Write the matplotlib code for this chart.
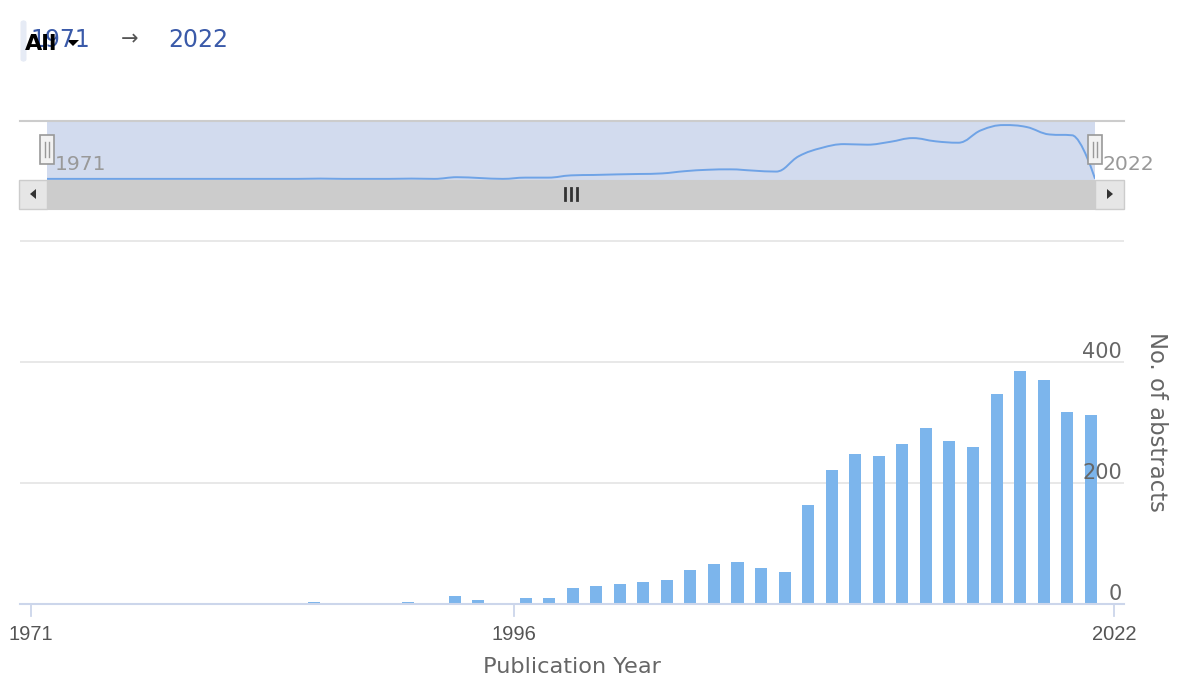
import numpy as np
import matplotlib
matplotlib.use("Agg")
import matplotlib.pyplot as plt
from matplotlib.path import Path
from matplotlib.patches import PathPatch, Rectangle, FancyBboxPatch, Polygon
from matplotlib.transforms import blended_transform_factory, offset_copy

# ---------------- data ----------------
years = [1971, 1973, 1975, 1977, 1979,
         1980, 1981, 1982, 1983, 1984, 1985, 1986, 1987, 1988, 1989,
         1990, 1991, 1992, 1993, 1994, 1995,
         1997, 1998, 1999, 2000, 2001, 2002, 2003, 2004, 2005, 2006,
         2007, 2008, 2009, 2010, 2011, 2012, 2013, 2014, 2015, 2016,
         2017, 2018, 2019, 2020, 2021, 2022]
abstracts = [1, 1, 1, 1, 1,
             1, 1, 1, 1, 1, 1, 1, 3, 1, 1,
             1, 3, 1, 13, 7, 1,
             10, 10, 26, 29, 33, 36, 40, 56, 66, 69,
             60, 53, 163, 222, 249, 245, 265, 292, 269, 259,
             348, 385, 371, 318, 312, 2]
x_ticks = [1971, 1996, 2022]
y_ticks = [0, 200, 400]
y_grid = [200, 400, 600]
range_start, range_end = "1971", "2022"
x_title = "Publication Year"
y_title = "No. of abstracts"

BAR = "#7cb5ec"
GRID = "#e6e6e6"
AXIS = "#ccd6eb"
LABEL = "#666666"

W, H = 1200, 700
fig = plt.figure(figsize=(W / 100, H / 100), dpi=100)
fig.patch.set_facecolor("white")


def fx(x):
    return x / W


def fy(y):
    return 1 - y / H


def fig_axes(x0, y0, x1, y1, **kw):
    return fig.add_axes([fx(x0), fy(y1), fx(x1) - fx(x0), fy(y0) - fy(y1)], **kw)


idx = np.arange(len(years))
vals = np.array(abstracts, dtype=float)

# ---------------- main chart ----------------
px_step = 23.55
x_first = 31.0
ax = fig_axes(20, 239, 1124, 604)
ax.set_xlim((20 - x_first) / px_step, (1124 - x_first) / px_step)
ax.set_ylim(0, 604)
for s in ax.spines.values():
    s.set_visible(False)
ax.set_facecolor("none")
ax.set_yticks([])
ax.set_xticks([])

for g in y_grid:
    ax.axhline(g, color=GRID, lw=1.3, zorder=0)
ax.bar(idx, vals, width=0.51, color=BAR, zorder=2, linewidth=0)
ax.axhline(0, color=AXIS, lw=1.5, zorder=3, clip_on=False)

# x ticks (ordinal interpolation like a stock axis)
tick_pos = np.interp(x_ticks, years, idx)
trans_x = blended_transform_factory(ax.transData, ax.transAxes)
for tp, lab in zip(tick_pos, x_ticks):
    ax.plot([tp, tp], [0, -12 / 365], transform=trans_x, color=AXIS, lw=1.3,
            clip_on=False, zorder=3)
    ax.text(tp, -30 / 365, str(lab), transform=trans_x, ha="center", va="center",
            fontsize=14.5, family="Liberation Sans", color="#555555")
ax.text(0.5, -63 / 365, x_title, transform=ax.transAxes, ha="center", va="center",
        fontsize=16.2, color=LABEL)

# y tick labels (right side, above grid lines)
trans_y = blended_transform_factory(ax.transAxes, ax.transData)
for t in y_ticks:
    ax.text(1.0 - 2 / 1104, t, str(t),
            transform=offset_copy(trans_y, fig=fig, x=0, y=0.2, units="points"),
            ha="right", va="bottom", fontsize=15, color=LABEL, zorder=4)
fig.text(fx(1156), fy(422), y_title, rotation=270, ha="center", va="center",
         fontsize=16.4, color=LABEL)

# ---------------- navigator ----------------
nav = fig_axes(47, 121, 1095, 180)
nav.set_xlim(0, len(years) - 1)
nav.set_ylim(-7, 414)
nav.set_facecolor("#d2dbee")
for s in nav.spines.values():
    s.set_visible(False)
nav.set_xticks([])
nav.set_yticks([])


def spline_path(xs, ys, smoothing=1.5):
    n = len(xs)
    lc = [(xs[i], ys[i]) for i in range(n)]
    rc = [(xs[i], ys[i]) for i in range(n)]
    den = smoothing + 1
    for i in range(1, n - 1):
        px_, py_ = xs[i], ys[i]
        lx, ly = xs[i - 1], ys[i - 1]
        nx, ny = xs[i + 1], ys[i + 1]
        lcx = (smoothing * px_ + lx) / den
        lcy = (smoothing * py_ + ly) / den
        rcx = (smoothing * px_ + nx) / den
        rcy = (smoothing * py_ + ny) / den
        if rcx != lcx:
            corr = ((rcy - lcy) * (rcx - px_)) / (rcx - lcx) + py_ - rcy
            lcy += corr
            rcy += corr
        if lcy > ly and lcy > py_:
            lcy = max(ly, py_)
            rcy = 2 * py_ - lcy
        elif lcy < ly and lcy < py_:
            lcy = min(ly, py_)
            rcy = 2 * py_ - lcy
        if rcy > ny and rcy > py_:
            rcy = max(ny, py_)
            lcy = 2 * py_ - rcy
        elif rcy < ny and rcy < py_:
            rcy = min(ny, py_)
            lcy = 2 * py_ - rcy
        lc[i] = (lcx, lcy)
        rc[i] = (rcx, rcy)
    verts = [(xs[0], ys[0])]
    codes = [Path.MOVETO]
    for i in range(1, n):
        verts += [rc[i - 1], lc[i], (xs[i], ys[i])]
        codes += [Path.CURVE4] * 3
    return Path(verts, codes)


nav.add_patch(PathPatch(spline_path(idx.astype(float), vals), facecolor="none",
                        edgecolor="#6fa3e6", lw=1.4, zorder=3))

# navigator outline
fig.add_artist(plt.Line2D([fx(20), fx(1124)], [fy(121), fy(121)], color="#cccccc", lw=1.5))

# navigator handles
for hx in (47, 1095):
    fig.add_artist(Rectangle((fx(hx - 7), fy(164)), fx(14), 29 / H, facecolor="#f2f2f2",
                             edgecolor="#999999", lw=1.2, zorder=5))
    for dx in (-1.8, 1.8):
        fig.add_artist(plt.Line2D([fx(hx + dx), fx(hx + dx)], [fy(142), fy(157)],
                                  color="#999999", lw=1.0, zorder=6))

fig.text(fx(55), fy(164), str(years[0]), ha="left", va="center", fontsize=14.7, color="#999999")
fig.text(fx(1103), fy(164), str(years[-1]), ha="left", va="center", fontsize=14.7, color="#999999")

# ---------------- scrollbar ----------------
fig.add_artist(Rectangle((fx(47), fy(209)), fx(1095) - fx(47), 29 / H,
                         facecolor="#cccccc", edgecolor="#cccccc", lw=0.8))
for bx0, bx1 in ((19, 47), (1095, 1124)):
    fig.add_artist(Rectangle((fx(bx0), fy(209)), fx(bx1) - fx(bx0), 29 / H,
                             facecolor="#e6e6e6", edgecolor="#cccccc", lw=1.0))
fig.add_artist(Polygon([(fx(30), fy(194)), (fx(36), fy(189)), (fx(36), fy(199))],
                       closed=True, facecolor="#333333", edgecolor="none"))
fig.add_artist(Polygon([(fx(1113), fy(194)), (fx(1107), fy(189)), (fx(1107), fy(199))],
                       closed=True, facecolor="#333333", edgecolor="none"))
for gx in (565, 571, 577):
    fig.add_artist(plt.Line2D([fx(gx), fx(gx)], [fy(188), fy(200)], color="#333333", lw=2.0))

# ---------------- range selector / input ----------------
fig.add_artist(FancyBboxPatch((fx(20.5), fy(62)), 6 / W, 42 / H,
                              boxstyle="round,pad=0,rounding_size=0.004",
                              facecolor="#e6ebf5", edgecolor="none"))
fig.text(fx(30), fy(40), range_start, ha="left", va="center", fontsize=17, color="#3a5aa9")
fig.text(fx(130), fy(39), "\u2192", ha="center", va="center", fontsize=15, color="#555555")
fig.text(fx(168), fy(40), range_end, ha="left", va="center", fontsize=17, color="#3a5aa9")
fig.text(fx(25), fy(44), "All", ha="left", va="center", fontsize=16, fontweight="bold", color="#000000")
fig.add_artist(Polygon([(fx(67), fy(40)), (fx(79), fy(40)), (fx(73), fy(46))],
                       closed=True, facecolor="#000000", edgecolor="none"))

fig.savefig("out.png", dpi=100)
